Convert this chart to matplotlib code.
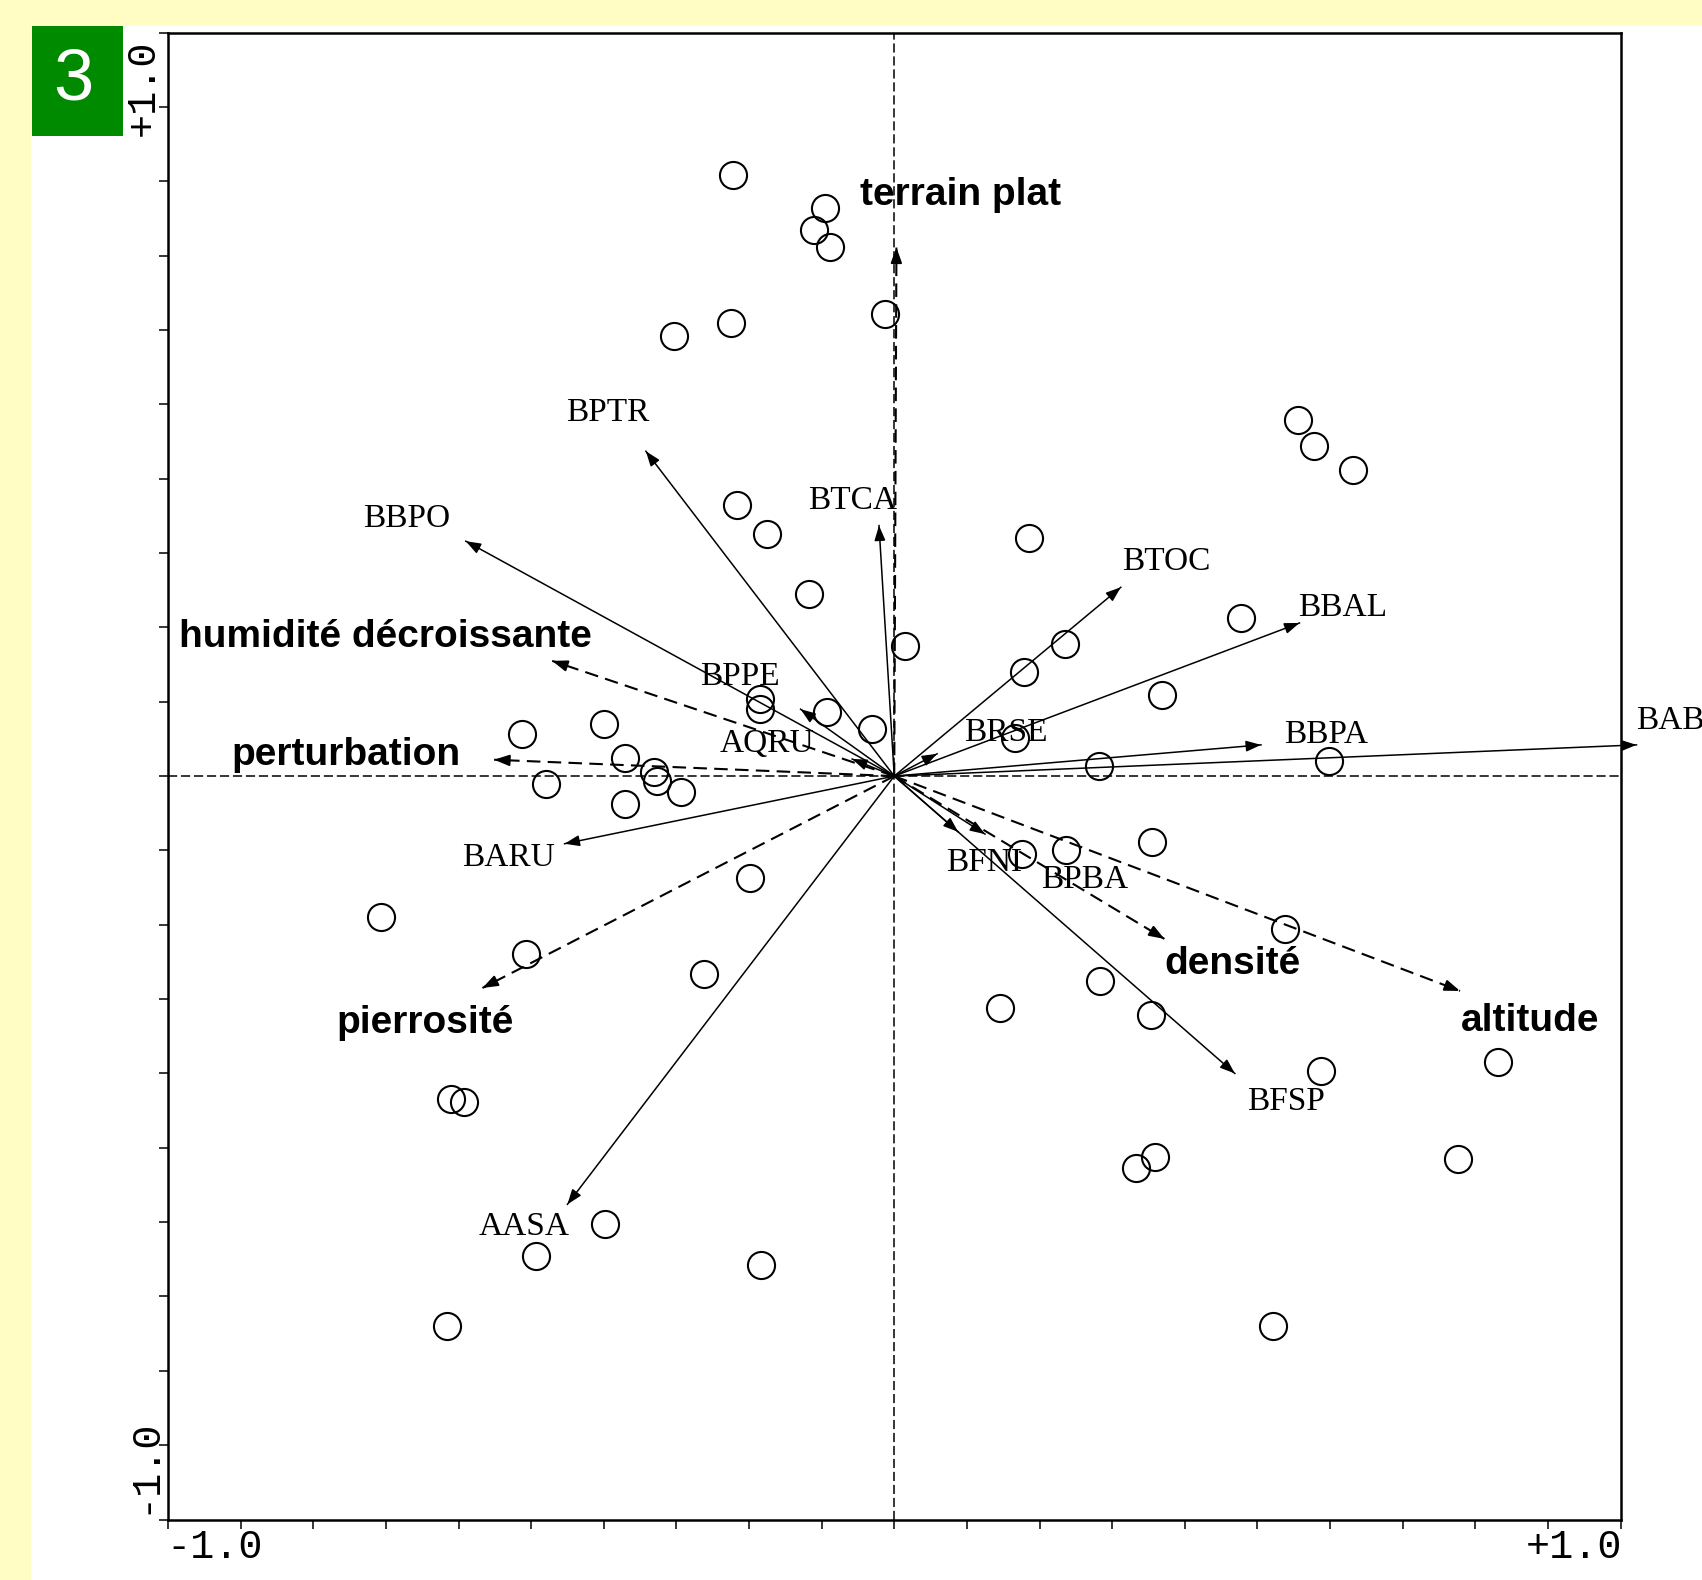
import numpy as np
import matplotlib
matplotlib.use("Agg")
import matplotlib.pyplot as plt
from matplotlib.patches import Rectangle

# sample scores (open circles)
site_x = [-0.222, -0.095, -0.111, -0.089, -0.013, -0.225, -0.303, 0.556, 0.578, 0.632,
          -0.217, -0.175, 0.185, -0.118, 0.478, 0.015, 0.235, 0.179, 0.369, -0.185,
          -0.185, -0.093, -0.030, -0.400, -0.512, -0.371, -0.331, -0.326, -0.294, -0.480,
          -0.371, 0.166, 0.282, 0.598, 0.355, 0.236, 0.176, -0.199, -0.707, 0.538,
          -0.507, -0.262, 0.283, 0.145, 0.354, 0.831, 0.587, -0.611, -0.593, 0.359,
          0.333, 0.776, -0.398, -0.493, -0.184, -0.616, 0.522]
site_y = [0.808, 0.764, 0.734, 0.712, 0.621, 0.610, 0.592, 0.479, 0.444, 0.412,
          0.365, 0.326, 0.320, 0.245, 0.213, 0.175, 0.178, 0.140, 0.109, 0.104,
          0.090, 0.086, 0.064, 0.070, 0.056, 0.024, 0.006, -0.007, -0.022, -0.011,
          -0.037, 0.051, 0.013, 0.020, -0.089, -0.100, -0.105, -0.137, -0.190, -0.206,
          -0.239, -0.266, -0.276, -0.312, -0.321, -0.385, -0.397, -0.434, -0.438, -0.512,
          -0.527, -0.515, -0.603, -0.645, -0.658, -0.740, -0.740]

# species arrows
species = ["BPTR", "BBPO", "BTCA", "BTOC", "BBAL", "BBPA", "BABI", "BPPE",
           "AQRU", "BRSE", "BARU", "BFNI", "BPBA", "BFSP", "AASA"]
species_x = [-0.342, -0.590, -0.021, 0.312, 0.558, 0.505, 1.022, -0.129,
             -0.058, 0.059, -0.454, 0.088, 0.125, 0.469, -0.450]
species_y = [0.437, 0.316, 0.337, 0.254, 0.206, 0.042, 0.042, 0.090,
             0.023, 0.030, -0.091, -0.075, -0.078, -0.400, -0.576]
species_lab_x = [-0.395, -0.671, -0.058, 0.375, 0.617, 0.595, 1.021, -0.212,
                 -0.175, 0.154, -0.531, 0.124, 0.262, 0.540, -0.510]
species_lab_y = [0.489, 0.346, 0.370, 0.289, 0.226, 0.056, 0.075, 0.133,
                 0.044, 0.058, -0.110, -0.117, -0.139, -0.438, -0.606]

# environmental variables (dashed arrows)
env = ["terrain plat", "humidité décroissante", "perturbation", "pierrosité", "densité", "altitude"]
env_x = [0.003, -0.471, -0.551, -0.567, 0.372, 0.779]
env_y = [0.711, 0.155, 0.022, -0.285, -0.219, -0.289]
env_lab_x = [0.091, -0.700, -0.755, -0.646, 0.466, 0.876]
env_lab_y = [0.782, 0.187, 0.029, -0.332, -0.253, -0.329]

W, H = 1702, 1580
fig = plt.figure(figsize=(W / 100, H / 100), dpi=100)
fig.patch.set_facecolor("#fffdc4")
# white panel + green number box
fig.patches.append(Rectangle((31 / W, 0), 1, 1 - 26 / H, transform=fig.transFigure,
                             facecolor="white", edgecolor="none", zorder=-2))
fig.patches.append(Rectangle((32 / W, 1 - 136 / H), 91 / W, 110 / H, transform=fig.transFigure,
                             facecolor="#008a00", edgecolor="none", zorder=-1))
fig.text(73 / W, 1 - 81 / H, "3", color="white", fontsize=52, family="Liberation Sans",
         ha="center", va="center")

ax = fig.add_axes([168 / W, (H - 1519.5) / H, (1620.5 - 168) / W, (1519.5 - 32.7) / H])
ax.set_zorder(2)
ax.set_xlim(-1, 1)
ax.set_ylim(-1, 1)
ax.set_facecolor("none")
for s in ax.spines.values():
    s.set_linewidth(1.8)
ax.set_xticks(np.linspace(-1, 1, 21))
ax.set_yticks(np.linspace(-1, 1, 21))
ax.set_xticklabels([])
ax.set_yticklabels([])
ax.tick_params(direction="out", length=6.5, width=1.1, top=False, right=False)

ax.axhline(0, color="k", lw=1.1, ls=(0, (6, 2.5)), zorder=1)
ax.axvline(0, color="k", lw=1.1, ls=(0, (6, 2.5)), zorder=1)

ax.plot(site_x, site_y, "o", ms=19.5, mfc="none", mec="k", mew=1.5, zorder=3)

head = "-|>,head_length=0.6,head_width=0.22"


def draw_arrow(x, y, ls, lw):
    ax.plot([0, x], [0, y], color="k", lw=lw, ls=ls, clip_on=False, zorder=2)
    ln = np.hypot(x, y)
    back = 0.02 / ln
    ax.annotate("", xy=(x, y), xytext=(x * (1 - back), y * (1 - back)),
                arrowprops=dict(arrowstyle=head, color="k", lw=lw, mutation_scale=15,
                                shrinkA=0, shrinkB=0),
                annotation_clip=False, zorder=2)


for name, x, y, lx, ly in zip(species, species_x, species_y, species_lab_x, species_lab_y):
    draw_arrow(x, y, "-", 1.1)
    if name == "BABI":
        ax.text(lx, ly, name, fontsize=24, family="Liberation Serif", ha="left", va="center",
                clip_on=False)
    else:
        ax.text(lx, ly, name, fontsize=24, family="Liberation Serif", ha="center", va="center")

for name, x, y, lx, ly in zip(env, env_x, env_y, env_lab_x, env_lab_y):
    draw_arrow(x, y, (0, (6.5, 3.5)), 1.5)
    ax.text(lx, ly, name, fontsize=28, family="Liberation Sans", weight="bold",
            ha="center", va="center")

# axis end labels
mono = dict(fontsize=29, family="Liberation Mono", color="k")
fig.text(166 / W, 1 - 1528 / H, "-1.0", ha="left", va="top", **mono)
fig.text(1622 / W, 1 - 1528 / H, "+1.0", ha="right", va="top", **mono)
fig.text(162 / W, 1 - 40 / H, "+1.0", ha="right", va="top", rotation=90, **mono)
fig.text(162 / W, 1 - 1514 / H, "-1.0", ha="right", va="bottom", rotation=90, **mono)

fig.savefig("out.png", dpi=100)
